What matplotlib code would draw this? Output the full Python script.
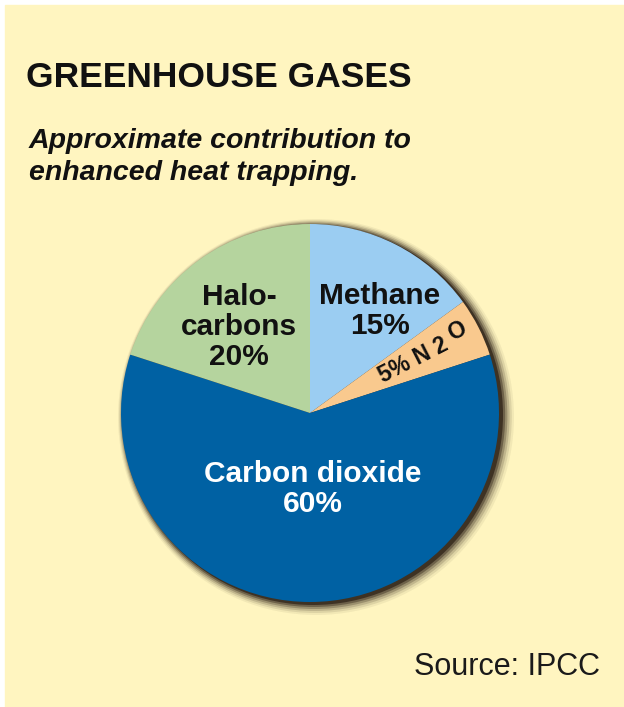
import numpy as np
import matplotlib.pyplot as plt
from matplotlib.patches import Circle, Rectangle

# chart data
labels = ['Methane', 'N2O', 'Carbon dioxide', 'Halocarbons']
shares = [15, 5, 60, 20]
colors = ['#9BCDF2', '#F9C98E', '#0061A3', '#B5D49E']

W, H = 624, 707
bg = '#FFF5C0'


def py(y):
    # pixel row (from top) -> data y
    return H - y


fig = plt.figure(figsize=(W / 100, H / 100), dpi=100)
fig.patch.set_facecolor('white')
ax = fig.add_axes([0, 0, 1, 1])

# yellow panel with thin white margin top/left
ax.add_patch(Rectangle((5, -5), W, H, color=bg, zorder=0))

cx, cy, r = 310, py(413), 189

# soft dark shadow to the lower right
for i, a in enumerate([0.06, 0.1, 0.16, 0.25, 0.4, 0.7]):
    ax.add_patch(Circle((cx + 6 - i * 0.6, cy - 4 + i * 0.4), r + 9 - i * 1.6,
                        color='#2A1E14', alpha=a, lw=0, zorder=1))

ax.pie(shares, colors=colors, startangle=90, counterclock=False,
       center=(cx, cy), radius=r, frame=True,
       wedgeprops={'linewidth': 0, 'zorder': 2})
ax.set_xlim(0, W)
ax.set_ylim(0, H)
ax.set_aspect('auto')
ax.axis('off')

# titles
ax.text(26, py(87), 'GREENHOUSE GASES', fontsize=25.5, fontweight='bold',
        family='Liberation Sans', color='#111111', va='baseline')
sub = dict(fontsize=20.5, fontweight='bold', style='italic',
           family='Liberation Sans', color='#111111', va='baseline')
ax.text(29, py(148), 'Approximate contribution to', **sub)
ax.text(29, py(180), 'enhanced heat trapping.', **sub)

# slice labels
lab = dict(fontsize=21.5, fontweight='bold', family='Liberation Sans',
           ha='center', va='center', linespacing=1.1)
ax.text(239, py(327), 'Halo-\ncarbons\n20%', color='#111111', **lab)
ax.text(380, py(311), 'Methane\n15%', color='#111111', **lab)
ax.text(313, py(489), 'Carbon dioxide\n60%', color='white', **lab)

# N2O label runs along the middle of its thin wedge
mid = np.deg2rad(90 - 360 * (shares[0] + shares[1] / 2) / sum(shares))
ux, uy = np.cos(mid), np.sin(mid)
n2o = dict(color='#111111', rotation=np.rad2deg(mid), fontsize=16.5,
           fontweight='bold', family='Liberation Sans',
           ha='center', va='center', rotation_mode='anchor')
ax.text(cx + 116 * ux, cy + 116 * uy, '5% N 2', **n2o)
ax.text(cx + 168 * ux - 6 * uy, cy + 168 * uy + 6 * ux, 'O', **n2o)

ax.text(600, py(675), 'Source: IPCC', fontsize=22, family='Liberation Sans',
        color='#1A1A1A', ha='right', va='baseline')

fig.savefig('out.png', dpi=100, facecolor=fig.get_facecolor())
